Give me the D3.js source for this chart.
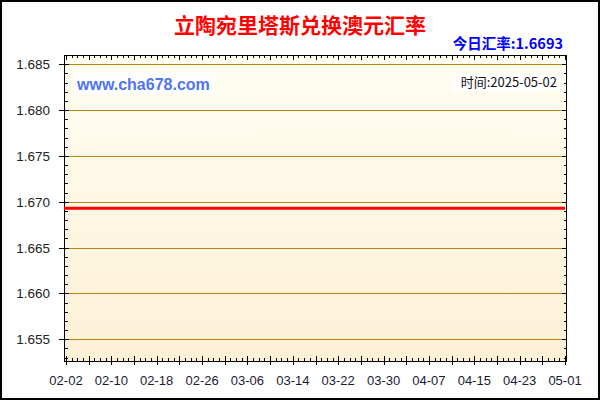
<!DOCTYPE html>
<html><head><meta charset="utf-8">
<script src="https://cdn.jsdelivr.net/npm/d3@7"></script>
<style>html,body{margin:0;padding:0;background:#fff;}svg{display:block;}</style>
</head><body>
<script>
const title = "立陶宛里塔斯兑换澳元汇率";
const rateLabel = "今日汇率:1.6693";
const siteLabel = "www.cha678.com";
const timeLabel = "时间:2025-05-02";
const dates = ["2025-02-01", "2025-05-01"];
const values = [1.6693, 1.6693];
const yTicks = [1.655, 1.660, 1.665, 1.670, 1.675, 1.680, 1.685];
const xTickLabels = ["02-02","02-10","02-18","02-26","03-06","03-14","03-22","03-30","04-07","04-15","04-23","05-01"];

const W = 600, H = 400;
const x0 = 64, x1 = 567, y0 = 55, y1 = 362;
const day = 864e5;
const parse = d3.utcParse("%Y-%m-%d");
const xStart = new Date(parse("2025-02-02").getTime() - 0.35*day);
const xEnd = new Date(parse("2025-05-01").getTime() + 0.35*day);
const x = d3.scaleUtc().domain([xStart, xEnd]).range([x0, x1]);
const y = d3.scaleLinear().domain([1.65252, 1.68601]).range([y1, y0]);

const svg = d3.select("body").append("svg").attr("width", W).attr("height", H);
const defs = svg.append("defs");
const grad = defs.append("linearGradient").attr("id","bg").attr("x1",0).attr("y1",0).attr("x2",0).attr("y2",1);
grad.append("stop").attr("offset","0%").attr("stop-color","#fffef2");
grad.append("stop").attr("offset","100%").attr("stop-color","#fdf0d6");
defs.append("clipPath").attr("id","clip").append("rect").attr("x",x0).attr("y",y0).attr("width",x1-x0).attr("height",y1-y0);

svg.append("rect").attr("x",1).attr("y",1).attr("width",W-2).attr("height",H-2).attr("fill","#fff").attr("stroke","#000").attr("stroke-width",2);
svg.append("rect").attr("x",x0).attr("y",y0).attr("width",x1-x0).attr("height",y1-y0).attr("fill","url(#bg)");

// grid
svg.append("g").selectAll("line").data(yTicks).join("line")
  .attr("x1",x0).attr("x2",x1).attr("y1",d=>Math.round(y(d))+0.5).attr("y2",d=>Math.round(y(d))+0.5)
  .attr("stroke","#b8860b").attr("stroke-width",1);

// minor/major ticks
const dayTicks = d3.utcDay.range(parse("2025-02-02"), new Date(parse("2025-05-01").getTime()+1));
const tk = svg.append("g").attr("stroke","#000").attr("stroke-width",1);
dayTicks.forEach((d,i)=>{
  const px = Math.round(x(d))+0.5;
  const major = i % 4 === 0;
  tk.append("line").attr("x1",px).attr("x2",px).attr("y1",y1-(major?6:4)).attr("y2",y1+(major?3:0));
  tk.append("line").attr("x1",px).attr("x2",px).attr("y1",y0).attr("y2",y0+(major?5:3));
});
const yMinor = d3.range(1653, 1686).map(v=>v/1000);
yMinor.forEach(v=>{
  const py = Math.round(y(v))+0.5;
  const major = Math.round(v*1000) % 5 === 0;
  tk.append("line").attr("x1",x0-(major?5:0)).attr("x2",x0+(major?5:4)).attr("y1",py).attr("y2",py);
  tk.append("line").attr("x1",x1-(major?5:3)).attr("x2",x1).attr("y1",py).attr("y2",py);
});

// frame
svg.append("rect").attr("x",x0+0.5).attr("y",y0+0.5).attr("width",x1-x0-1).attr("height",y1-y0-1)
  .attr("fill","none").attr("stroke","#000").attr("stroke-width",1);

// data line
const line = d3.line().x(d=>x(d.date)).y(d=>y(d.value));
const data = dates.map((d,i)=>({date: parse(d), value: values[i]}));
svg.append("path").datum(data).attr("clip-path","url(#clip)").attr("d",line)
  .attr("fill","none").attr("stroke","#ff0000").attr("stroke-width",3);

// y labels
svg.append("g").selectAll("text").data(yTicks).join("text")
  .attr("x",50).attr("y",d=>y(d)+5).attr("text-anchor","end")
  .attr("font-family","Liberation Sans, Arial, sans-serif").attr("font-size",13.5).attr("fill","#222")
  .text(d=>d.toFixed(3));

// x labels
svg.append("g").selectAll("text").data(xTickLabels).join("text")
  .attr("x",d=>x(parse("2025-"+d))).attr("y",385).attr("text-anchor","middle")
  .attr("font-family","Liberation Sans, Arial, sans-serif").attr("font-size",13).attr("fill","#1a1a33")
  .text(d=>d);

// title
svg.append("text").attr("x",300).attr("y",33).attr("text-anchor","middle")
  .attr("font-family","Noto Sans CJK SC, sans-serif").attr("font-weight","bold").attr("font-size",21)
  .attr("fill","#ff0000").text(title);
svg.append("text").attr("x",563).attr("y",48.5).attr("text-anchor","end")
  .attr("font-family","Noto Sans CJK SC, sans-serif").attr("font-weight","bold").attr("font-size",14.5)
  .attr("fill","#0000ff").text(rateLabel);

// watermark labels
svg.append("rect").attr("x",74).attr("y",73).attr("width",141).attr("height",21).attr("fill","#fff");
svg.append("text").attr("x",77).attr("y",90).attr("font-family","Liberation Sans, Arial, sans-serif")
  .attr("font-weight","bold").attr("font-size",16).attr("fill","#4f74f0").text(siteLabel);
svg.append("rect").attr("x",451).attr("y",74).attr("width",108).attr("height",17).attr("fill","#fff");
svg.append("text").attr("x",557).attr("y",87).attr("text-anchor","end")
  .attr("font-family","Noto Sans CJK SC, sans-serif").attr("font-size",13).attr("fill","#111").text(timeLabel);
</script>
</body></html>
